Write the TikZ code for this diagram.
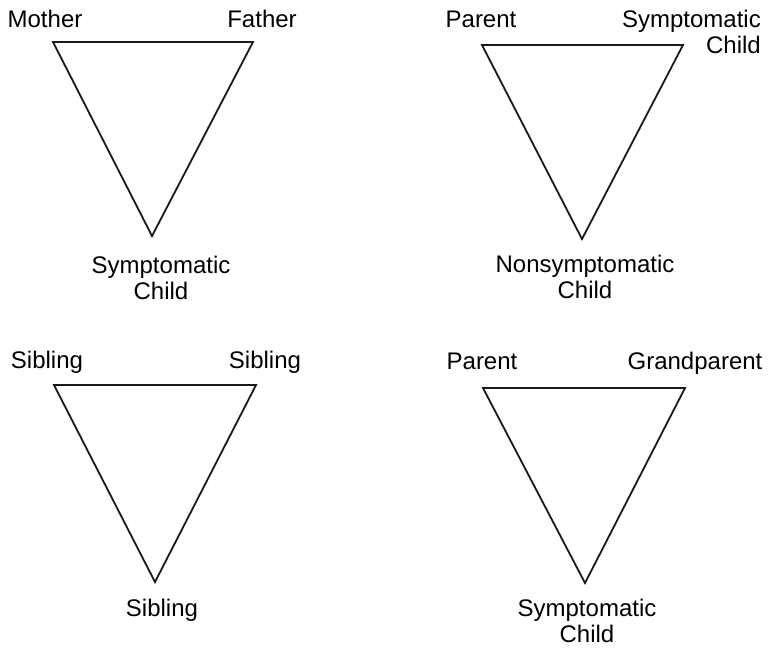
\documentclass[tikz,border=0pt]{standalone}
\usepackage{fontspec}
\setmainfont{Liberation Sans}
\begin{document}
\begin{tikzpicture}[x=1pt,y=-1pt,
  lbl/.style={inner sep=0pt,anchor=base,font=\fontsize{24}{26}\selectfont,align=center},
  tri/.style={draw=black!90,line width=1.8pt,line join=miter}]
\useasboundingbox (0,0) rectangle (768,649);
% triangle 1
\coordinate (a1) at (53,42); \coordinate (b1) at (253,42); \coordinate (c1) at (152,236);
\draw[tri] (a1) -- (b1) -- (c1) -- cycle;
\node[lbl] (m1) at (45,27) {Mother};
\node[lbl] (f1) at (262,27) {Father};
\node[lbl] (s1) at (161,299) {Symptomatic\\Child};
% triangle 2
\coordinate (a2) at (482,45); \coordinate (b2) at (683,45); \coordinate (c2) at (582,239);
\draw[tri] (a2) -- (b2) -- (c2) -- cycle;
\node[lbl] (p2) at (481,27) {Parent};
\node[lbl,anchor=base east,align=right] (s2) at (761,53) {Symptomatic\\Child};
\node[lbl] (n2) at (585,298) {Nonsymptomatic\\Child};
% triangle 3
\coordinate (a3) at (54,385); \coordinate (b3) at (256,385); \coordinate (c3) at (155,582);
\draw[tri] (a3) -- (b3) -- (c3) -- cycle;
\node[lbl] (l3) at (47,368) {Sibling};
\node[lbl] (r3) at (265,368) {Sibling};
\node[lbl] (s3) at (162,616) {Sibling};
% triangle 4
\coordinate (a4) at (483,388); \coordinate (b4) at (685,388); \coordinate (c4) at (585,583);
\draw[tri] (a4) -- (b4) -- (c4) -- cycle;
\node[lbl] (p4) at (482,369) {Parent};
\node[lbl] (g4) at (695,369) {Grandparent};
\node[lbl] (s4) at (587,642) {Symptomatic\\Child};
\end{tikzpicture}
\end{document}
